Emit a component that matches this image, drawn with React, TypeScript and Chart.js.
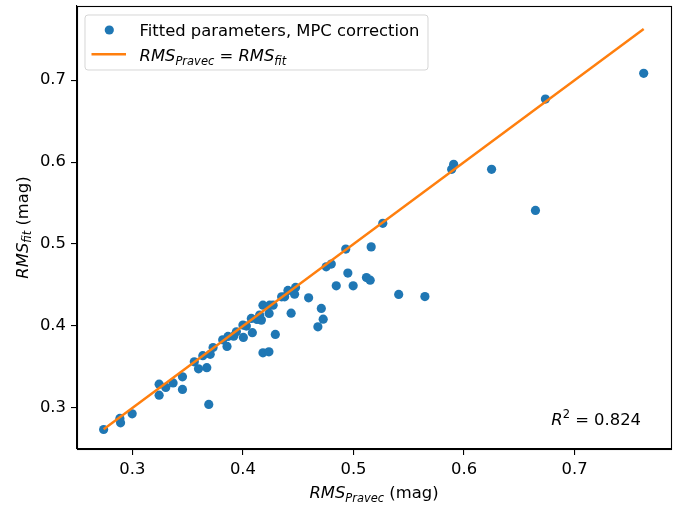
import React, { useEffect, useRef } from "react";
import { Chart, registerables } from "chart.js";

Chart.register(...registerables);

// RMS_Pravec (x) and RMS_fit (y), magnitudes
const rmsPravec = [
  0.274, 0.2887, 0.2893, 0.2998, 0.3242, 0.3242, 0.3302, 0.3368, 0.3453, 0.3453,
  0.3691, 0.356, 0.3598, 0.3673, 0.3637, 0.3704, 0.373, 0.3817, 0.3856, 0.3865,
  0.3916, 0.3941, 0.4, 0.4004, 0.4031, 0.4085, 0.4076, 0.4127, 0.4167, 0.4151,
  0.4181, 0.4237, 0.4242, 0.4273, 0.4293, 0.4181, 0.4235, 0.435, 0.4377, 0.4407,
  0.4467, 0.4476, 0.4436, 0.4594, 0.4709, 0.4726, 0.4678, 0.4753, 0.4799, 0.4844,
  0.493, 0.4949, 0.4997, 0.5117, 0.5151, 0.516, 0.5409, 0.5646, 0.5265, 0.5888,
  0.5906, 0.6249, 0.6646, 0.6736, 0.7625,
];
const rmsFit = [
  0.2736, 0.2871, 0.2817, 0.2927, 0.3289, 0.3155, 0.3249, 0.3305, 0.3379, 0.3225,
  0.3042, 0.3562, 0.3476, 0.3491, 0.3637, 0.3653, 0.3737, 0.383, 0.375, 0.3872,
  0.3875, 0.3928, 0.401, 0.386, 0.3998, 0.3918, 0.4092, 0.4079, 0.4071, 0.4132,
  0.4254, 0.4153, 0.4254, 0.4254, 0.3897, 0.3672, 0.3684, 0.4355, 0.4355, 0.4433,
  0.4388, 0.447, 0.4156, 0.4343, 0.4214, 0.4083, 0.3989, 0.4722, 0.4755, 0.449,
  0.4938, 0.4645, 0.449, 0.459, 0.4559, 0.4965, 0.4385, 0.4358, 0.5252, 0.5911,
  0.5973, 0.5911, 0.541, 0.6769, 0.7083,
];
const identityLine = [0.274, 0.7625];
const tickValues = [0.3, 0.4, 0.5, 0.6, 0.7];
const rSquared = "0.824";
const legendLabel = "Fitted parameters, MPC correction";

const FONT = '"DejaVu Sans", sans-serif';
const BASE = 16.4;

type Part = { t: string; it?: boolean; sub?: boolean; sup?: boolean };

function drawRich(ctx: CanvasRenderingContext2D, parts: Part[], x: number, y: number, align: "left" | "center" | "right", size = BASE) {
  const fontOf = (p: Part) => `${p.it ? "italic " : ""}${p.sub || p.sup ? size * 0.7 : size}px ${FONT}`;
  let total = 0;
  const widths = parts.map((p) => {
    ctx.font = fontOf(p);
    const w = ctx.measureText(p.t).width;
    total += w;
    return w;
  });
  let cx = align === "left" ? x : align === "center" ? x - total / 2 : x - total;
  ctx.textAlign = "left";
  ctx.textBaseline = "alphabetic";
  parts.forEach((p, i) => {
    ctx.font = fontOf(p);
    const dy = p.sub ? size * 0.22 : p.sup ? -size * 0.42 : 0;
    ctx.fillText(p.t, cx, y + dy);
    cx += widths[i];
  });
}

export default function App() {
  const ref = useRef<HTMLCanvasElement | null>(null);

  useEffect(() => {
    if (!ref.current) return;
    const overlay = {
      id: "overlay",
      afterDraw(chart: any) {
        const ctx: CanvasRenderingContext2D = chart.ctx;
        const a = chart.chartArea;
        ctx.save();
        // spines
        ctx.strokeStyle = "#000";
        ctx.lineWidth = 1.1;
        ctx.strokeRect(Math.round(a.left) + 0.5, Math.round(a.top) + 0.5, Math.round(a.right - a.left), Math.round(a.bottom - a.top));

        // legend
        const lx = 85, ly = 15, lw = 343, lh = 55, r = 3;
        ctx.beginPath();
        ctx.moveTo(lx + r, ly);
        ctx.lineTo(lx + lw - r, ly);
        ctx.arcTo(lx + lw, ly, lx + lw, ly + r, r);
        ctx.lineTo(lx + lw, ly + lh - r);
        ctx.arcTo(lx + lw, ly + lh, lx + lw - r, ly + lh, r);
        ctx.lineTo(lx + r, ly + lh);
        ctx.arcTo(lx, ly + lh, lx, ly + lh - r, r);
        ctx.lineTo(lx, ly + r);
        ctx.arcTo(lx, ly, lx + r, ly, r);
        ctx.closePath();
        ctx.fillStyle = "rgba(255,255,255,0.8)";
        ctx.fill();
        ctx.strokeStyle = "rgba(204,204,204,0.8)";
        ctx.lineWidth = 1;
        ctx.stroke();

        ctx.fillStyle = "#1f77b4";
        ctx.beginPath();
        ctx.arc(109.3, 30, 4.6, 0, Math.PI * 2);
        ctx.fill();
        ctx.strokeStyle = "#ff7f0e";
        ctx.lineWidth = 2.45;
        ctx.beginPath();
        ctx.moveTo(91.5, 54.3);
        ctx.lineTo(126, 54.3);
        ctx.stroke();

        ctx.fillStyle = "#000";
        drawRich(ctx, [{ t: legendLabel }], 139.5, 35.7, "left");
        drawRich(
          ctx,
          [
            { t: "RMS", it: true },
            { t: "Pravec", it: true, sub: true },
            { t: " = " },
            { t: "RMS", it: true },
            { t: "fit", it: true, sub: true },
          ],
          139.5,
          61,
          "left"
        );

        // R^2 annotation
        drawRich(ctx, [{ t: "R", it: true }, { t: "2", sup: true }, { t: " = " + rSquared }], 641, 425, "right");

        // axis titles
        drawRich(
          ctx,
          [{ t: "RMS", it: true }, { t: "Pravec", it: true, sub: true }, { t: " (mag)" }],
          (a.left + a.right) / 2,
          498,
          "center"
        );
        ctx.translate(27.5, (a.top + a.bottom) / 2);
        ctx.rotate(-Math.PI / 2);
        drawRich(ctx, [{ t: "RMS", it: true }, { t: "fit", it: true, sub: true }, { t: " (mag)" }], 0, 0, "center");
        ctx.restore();
      },
    };

    const axisCommon = {
      type: "linear" as const,
      min: 0.2499,
      max: 0.7872,
      afterBuildTicks: (axis: any) => {
        axis.ticks = tickValues.map((v) => ({ value: v }));
      },
      ticks: {
        color: "#000",
        font: { family: FONT, size: BASE },
        padding: 5,
        callback: (v: any) => Number(v).toFixed(1),
      },
      grid: { display: true, drawOnChartArea: false, drawTicks: true, tickLength: 6, color: "#000", lineWidth: 1.1 },
      border: { display: true, color: "#000", width: 1.1 },
    };

    const chart = new Chart(ref.current, {
      type: "scatter",
      data: {
        datasets: [
          {
            type: "line",
            label: "identity",
            data: identityLine.map((v) => ({ x: v, y: v })),
            borderColor: "#ff7f0e",
            borderWidth: 2.45,
            pointRadius: 0,
            showLine: true,
            fill: false,
            order: 0,
          } as any,
          {
            label: legendLabel,
            data: rmsPravec.map((x, i) => ({ x, y: rmsFit[i] })),
            backgroundColor: "#1f77b4",
            pointRadius: 4.6,
            pointBorderWidth: 0,
            order: 1,
          },
        ],
      },
      options: {
        responsive: false,
        animation: false,
        layout: { padding: { top: 6, right: 18, left: 0, bottom: 0 } },
        plugins: { legend: { display: false }, tooltip: { enabled: false } },
        scales: {
          x: {
            ...axisCommon,
            position: "bottom",
            afterFit: (s: any) => {
              s.height = 61;
              s.paddingLeft = 0;
              s.paddingRight = 0;
            },
          },
          y: {
            ...axisCommon,
            min: 0.2498,
            max: 0.7905,
            position: "left",
            afterFit: (s: any) => {
              s.width = 77;
              s.paddingTop = 0;
              s.paddingBottom = 0;
            },
          },
        },
      } as any,
      plugins: [overlay],
    });
    return () => chart.destroy();
  }, []);

  return (
    <div style={{ position: "fixed", left: 0, top: 0, width: 689, height: 510, background: "#fff" }}>
      <canvas ref={ref} width={689} height={510} style={{ display: "block" }} />
    </div>
  );
}
